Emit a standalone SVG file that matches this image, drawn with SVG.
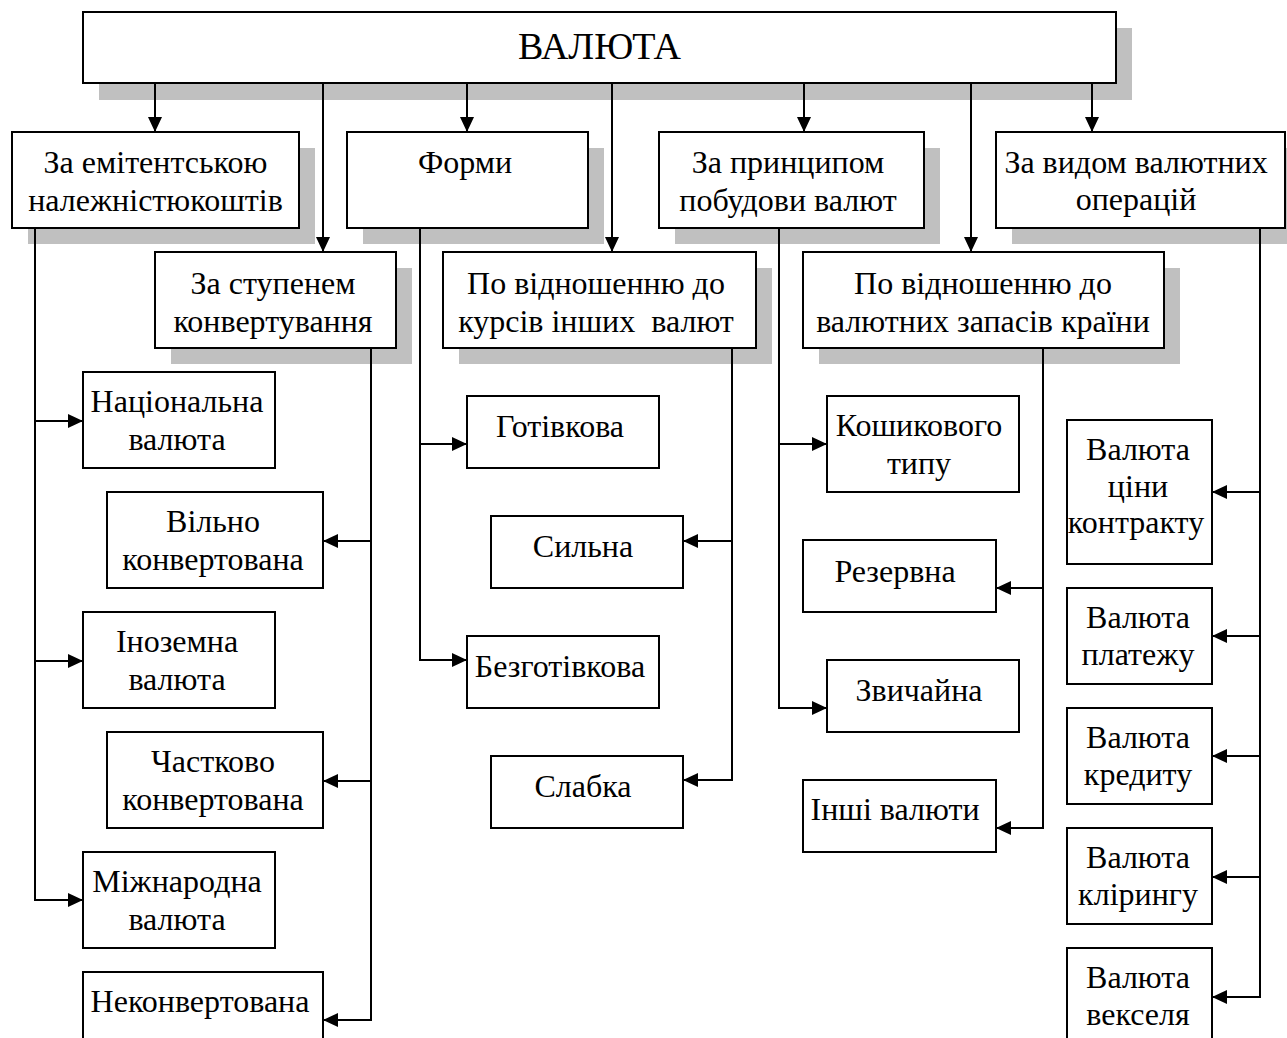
<svg xmlns="http://www.w3.org/2000/svg" width="1287" height="1038" viewBox="0 0 1287 1038">
  <style>
    .box { fill: #ffffff; stroke: #000000; stroke-width: 2; }
    .shadow { fill: #c0c0c0; }
    .lbl { font-family: "Liberation Serif", "Times New Roman", serif; font-size: 32px; fill: #000000; text-anchor: middle; }
    .title { font-size: 38px; }
    .pre { white-space: pre; }
    .link { fill: none; stroke: #000000; stroke-width: 2; }
    .arrow { fill: none; stroke: #000000; stroke-width: 2; marker-end: url(#head); }
  </style>
  <defs>
    <marker id="head" markerUnits="userSpaceOnUse" markerWidth="16" markerHeight="16" viewBox="0 0 16 16" refX="15" refY="8" orient="auto">
      <path d="M0,1 L15,8 L0,15 Z" fill="#000000"/>
    </marker>
  </defs>
  <rect width="1287" height="1038" fill="#ffffff"/>

  <!-- root -->
  <g id="valiuta">
    <rect class="shadow" x="99" y="28" width="1033" height="72"/>
    <rect class="box" x="83" y="12" width="1033" height="71"/>
    <text class="lbl title" x="599.5" y="59">ВАЛЮТА</text>
  </g>

  <!-- first level, row 1 -->
  <g id="emitent">
    <rect class="shadow" x="28" y="148" width="287" height="96"/>
    <rect class="box" x="12" y="132" width="287" height="96"/>
    <text class="lbl" x="155.5" y="173">За емітентською</text>
    <text class="lbl" x="155.5" y="211">належністюкоштів</text>
  </g>
  <g id="formy">
    <rect class="shadow" x="363" y="148" width="241" height="96"/>
    <rect class="box" x="347" y="132" width="241" height="96"/>
    <text class="lbl" x="465" y="173">Форми</text>
  </g>
  <g id="pryntsyp">
    <rect class="shadow" x="675" y="148" width="265" height="96"/>
    <rect class="box" x="659" y="132" width="265" height="96"/>
    <text class="lbl" x="788" y="173">За принципом</text>
    <text class="lbl" x="788" y="211">побудови валют</text>
  </g>
  <g id="operatsii">
    <rect class="shadow" x="1012" y="148" width="289" height="96"/>
    <rect class="box" x="996" y="132" width="289" height="96"/>
    <text class="lbl" x="1136" y="173">За видом валютних</text>
    <text class="lbl" x="1136" y="210">операцій</text>
  </g>

  <!-- first level, row 2 -->
  <g id="konvert">
    <rect class="shadow" x="171" y="268" width="241" height="96"/>
    <rect class="box" x="155" y="252" width="241" height="96"/>
    <text class="lbl" x="273" y="294">За ступенем</text>
    <text class="lbl" x="273" y="332">конвертування</text>
  </g>
  <g id="kursy">
    <rect class="shadow" x="459" y="268" width="313" height="96"/>
    <rect class="box" x="443" y="252" width="313" height="96"/>
    <text class="lbl" x="596" y="294">По відношенню до</text>
    <text class="lbl pre" x="596" y="332">курсів інших  валют</text>
  </g>
  <g id="zapasy">
    <rect class="shadow" x="819" y="268" width="361" height="96"/>
    <rect class="box" x="803" y="252" width="361" height="96"/>
    <text class="lbl" x="983" y="294">По відношенню до</text>
    <text class="lbl" x="983" y="332">валютних запасів країни</text>
  </g>

  <!-- leaves: issuer -->
  <g id="natsionalna">
    <rect class="box" x="83" y="372" width="192" height="96"/>
    <text class="lbl" x="177" y="412">Національна</text>
    <text class="lbl" x="177" y="450">валюта</text>
  </g>
  <g id="inozemna">
    <rect class="box" x="83" y="612" width="192" height="96"/>
    <text class="lbl" x="177" y="652">Іноземна</text>
    <text class="lbl" x="177" y="690">валюта</text>
  </g>
  <g id="mizhnarodna">
    <rect class="box" x="83" y="852" width="192" height="96"/>
    <text class="lbl" x="177" y="892">Міжнародна</text>
    <text class="lbl" x="177" y="930">валюта</text>
  </g>

  <!-- leaves: convertibility -->
  <g id="vilno">
    <rect class="box" x="107" y="492" width="216" height="96"/>
    <text class="lbl" x="213" y="532">Вільно</text>
    <text class="lbl" x="213" y="570">конвертована</text>
  </g>
  <g id="chastkovo">
    <rect class="box" x="107" y="732" width="216" height="96"/>
    <text class="lbl" x="213" y="772">Частково</text>
    <text class="lbl" x="213" y="810">конвертована</text>
  </g>
  <g id="nekonvert">
    <rect class="box" x="83" y="972" width="240" height="96"/>
    <text class="lbl" x="200" y="1012">Неконвертована</text>
  </g>

  <!-- leaves: forms -->
  <g id="gotivkova">
    <rect class="box" x="467" y="396" width="192" height="72"/>
    <text class="lbl" x="560" y="437">Готівкова</text>
  </g>
  <g id="bezgotivkova">
    <rect class="box" x="467" y="636" width="192" height="72"/>
    <text class="lbl" x="560" y="677">Безготівкова</text>
  </g>

  <!-- leaves: exchange rates -->
  <g id="sylna">
    <rect class="box" x="491" y="516" width="192" height="72"/>
    <text class="lbl" x="583" y="557">Сильна</text>
  </g>
  <g id="slabka">
    <rect class="box" x="491" y="756" width="192" height="72"/>
    <text class="lbl" x="583" y="797">Слабка</text>
  </g>

  <!-- leaves: construction principle -->
  <g id="koshykovogo">
    <rect class="box" x="827" y="396" width="192" height="96"/>
    <text class="lbl" x="919" y="436">Кошикового</text>
    <text class="lbl" x="919" y="474">типу</text>
  </g>
  <g id="zvychaina">
    <rect class="box" x="827" y="660" width="192" height="72"/>
    <text class="lbl" x="919" y="701">Звичайна</text>
  </g>

  <!-- leaves: reserves -->
  <g id="rezervna">
    <rect class="box" x="803" y="540" width="193" height="72"/>
    <text class="lbl" x="895" y="582">Резервна</text>
  </g>
  <g id="inshi">
    <rect class="box" x="803" y="780" width="193" height="72"/>
    <text class="lbl" x="895" y="820">Інші валюти</text>
  </g>

  <!-- leaves: operations -->
  <g id="tsiny">
    <rect class="box" x="1067" y="420" width="145" height="144"/>
    <text class="lbl" x="1138" y="460">Валюта</text>
    <text class="lbl" x="1138" y="497">ціни</text>
    <text class="lbl" x="1136" y="533">контракту</text>
  </g>
  <g id="platezhu">
    <rect class="box" x="1067" y="588" width="145" height="96"/>
    <text class="lbl" x="1138" y="628">Валюта</text>
    <text class="lbl" x="1138" y="665">платежу</text>
  </g>
  <g id="kredytu">
    <rect class="box" x="1067" y="708" width="145" height="96"/>
    <text class="lbl" x="1138" y="748">Валюта</text>
    <text class="lbl" x="1138" y="785">кредиту</text>
  </g>
  <g id="kliryngu">
    <rect class="box" x="1067" y="828" width="145" height="96"/>
    <text class="lbl" x="1138" y="868">Валюта</text>
    <text class="lbl" x="1138" y="905">клірингу</text>
  </g>
  <g id="vekselia">
    <rect class="box" x="1067" y="948" width="145" height="110"/>
    <text class="lbl" x="1138" y="988">Валюта</text>
    <text class="lbl" x="1138" y="1025">векселя</text>
  </g>

  <!-- connectors -->
  <g id="connectors">
    <!-- root to first level -->
    <line class="arrow" x1="155" y1="83" x2="155" y2="132"/>
    <line class="arrow" x1="323" y1="83" x2="323" y2="252"/>
    <line class="arrow" x1="467" y1="83" x2="467" y2="132"/>
    <line class="arrow" x1="612" y1="83" x2="612" y2="252"/>
    <line class="arrow" x1="804" y1="83" x2="804" y2="132"/>
    <line class="arrow" x1="971" y1="83" x2="971" y2="252"/>
    <line class="arrow" x1="1092" y1="83" x2="1092" y2="132"/>

    <!-- issuer branch -->
    <line class="link" x1="35" y1="228" x2="35" y2="901"/>
    <line class="arrow" x1="34" y1="421" x2="83" y2="421"/>
    <line class="arrow" x1="34" y1="661" x2="83" y2="661"/>
    <line class="arrow" x1="34" y1="900" x2="83" y2="900"/>

    <!-- convertibility branch -->
    <line class="link" x1="371" y1="348" x2="371" y2="1021"/>
    <line class="arrow" x1="372" y1="541" x2="323" y2="541"/>
    <line class="arrow" x1="372" y1="781" x2="323" y2="781"/>
    <line class="arrow" x1="372" y1="1020" x2="323" y2="1020"/>

    <!-- forms branch -->
    <line class="link" x1="420" y1="228" x2="420" y2="661"/>
    <line class="arrow" x1="419" y1="444" x2="467" y2="444"/>
    <line class="arrow" x1="419" y1="660" x2="467" y2="660"/>

    <!-- exchange rate branch -->
    <line class="link" x1="732" y1="348" x2="732" y2="781"/>
    <line class="arrow" x1="733" y1="541" x2="683" y2="541"/>
    <line class="arrow" x1="733" y1="780" x2="683" y2="780"/>

    <!-- construction principle branch -->
    <line class="link" x1="779" y1="228" x2="779" y2="709"/>
    <line class="arrow" x1="778" y1="444" x2="827" y2="444"/>
    <line class="arrow" x1="778" y1="708" x2="827" y2="708"/>

    <!-- reserves branch -->
    <line class="link" x1="1043" y1="348" x2="1043" y2="829"/>
    <line class="arrow" x1="1044" y1="588" x2="996" y2="588"/>
    <line class="arrow" x1="1044" y1="828" x2="996" y2="828"/>

    <!-- operations branch -->
    <line class="link" x1="1260" y1="228" x2="1260" y2="998"/>
    <line class="arrow" x1="1261" y1="492" x2="1212" y2="492"/>
    <line class="arrow" x1="1261" y1="636" x2="1212" y2="636"/>
    <line class="arrow" x1="1261" y1="756" x2="1212" y2="756"/>
    <line class="arrow" x1="1261" y1="877" x2="1212" y2="877"/>
    <line class="arrow" x1="1261" y1="997" x2="1212" y2="997"/>
  </g>
</svg>
